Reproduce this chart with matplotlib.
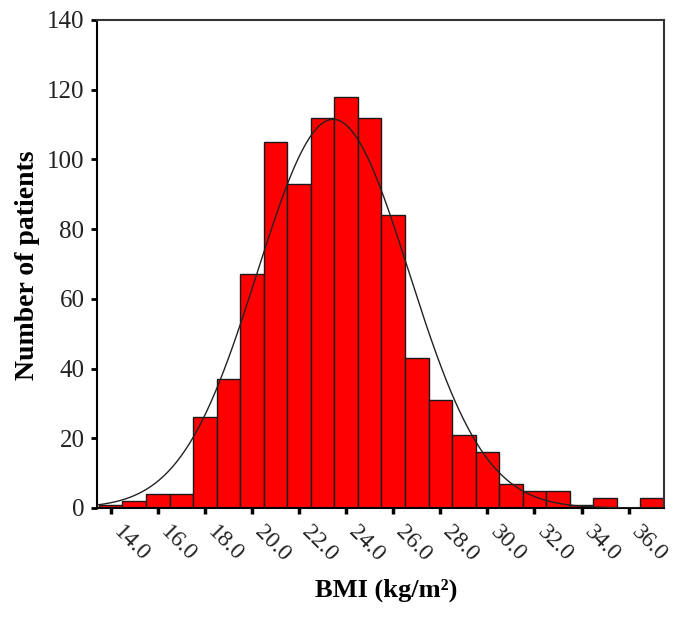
import numpy as np
import matplotlib
matplotlib.use("Agg")
import matplotlib.pyplot as plt
from matplotlib.transforms import ScaledTranslation

# Data
bmi_bins = [14, 15, 16, 17, 18, 19, 20, 21, 22, 23, 24, 25, 26, 27, 28, 29,
            30, 31, 32, 33, 34, 35, 36, 37]
counts = [1, 2, 4, 4, 26, 37, 67, 105, 93, 112, 118, 112, 84, 43, 31, 21,
          16, 7, 5, 5, 1, 3, 0, 3]
tick_values = [14, 16, 18, 20, 22, 24, 26, 28, 30, 32, 34, 36]
tick_labels = ["14.0", "16.0", "18.0", "20.0", "22.0", "24.0", "26.0",
               "28.0", "30.0", "32.0", "34.0", "36.0"]
y_ticks = [0, 20, 40, 60, 80, 100, 120, 140]
# fitted normal curve parameters
curve_mean = 23.45
curve_sd = 3.22
bin_width = 1.0

plt.rcParams['font.family'] = ['Liberation Serif', 'DejaVu Serif']

fig = plt.figure(figsize=(6.84, 6.17), dpi=100)
ax = fig.add_axes([97/684, (617-508)/617, 567/684, 488/617])

ax.bar(bmi_bins, counts, width=bin_width, color='#FF0000',
       edgecolor='#1a1a1a', linewidth=1.0, zorder=2)

n_total = sum(counts)
xs = np.linspace(13.42, 37.5, 400)
ys = n_total * bin_width * np.exp(-0.5 * ((xs - curve_mean) / curve_sd) ** 2) / (curve_sd * np.sqrt(2 * np.pi))
ax.plot(xs, ys, color='#222222', linewidth=1.0, zorder=3)

ax.set_xlim(13.42, 37.5)
ax.set_ylim(0, 140)
ax.set_yticks(y_ticks)
ax.set_yticklabels([str(v) for v in y_ticks], fontsize=18)
ax.set_xticks(tick_values)
ax.set_xticklabels(tick_labels, fontsize=17, rotation=-45, ha='left',
                   va='center', rotation_mode='anchor')

ax.tick_params(axis='y', direction='out', length=4, width=2, pad=5, colors='black')
ax.tick_params(axis='x', direction='out', length=4, width=2.5, pad=11, colors='black')
shift = ScaledTranslation(6/100, 0, fig.dpi_scale_trans)
for lab in ax.get_xticklabels():
    lab.set_color('#222222')
    lab.set_transform(lab.get_transform() + shift)
for lab in ax.get_yticklabels():
    lab.set_color('#222222')

ax.spines['left'].set_color('black')
ax.spines['bottom'].set_color('black')
ax.spines['left'].set_linewidth(1.5)
ax.spines['bottom'].set_linewidth(1.5)
ax.spines['top'].set_color('#333333')
ax.spines['right'].set_color('#333333')
ax.spines['top'].set_linewidth(1.5)
ax.spines['right'].set_linewidth(1.5)

fig.text(28/684, (617-265)/617, "Number of patients", fontsize=20,
         fontweight='bold', rotation=90, ha='center', va='center')
fig.text(386/684, (617-590)/617, "BMI (kg/m²)", fontsize=19,
         fontweight='bold', ha='center', va='center')

fig.savefig("out.png", dpi=100)
